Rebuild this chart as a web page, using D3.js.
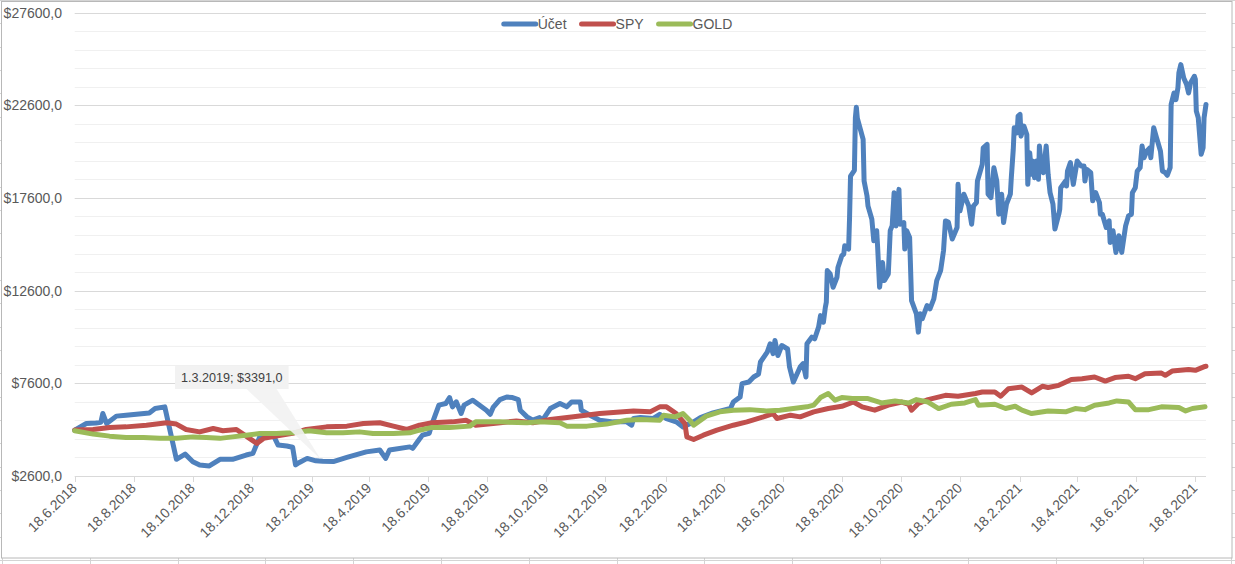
<!DOCTYPE html>
<html lang="cs">
<head>
  <meta charset="UTF-8">
  <title>Účet / SPY / GOLD</title>
  <script src="https://d3js.org/d3.v7.min.js"></script>
  <style>
    body { margin: 0; background: #fff; }
    svg { display: block; font-family: "Liberation Sans", Arial, sans-serif; }
    .lbl { font-size: 14px; fill: #595959; }
    .series { fill: none; stroke-width: 5px; stroke-linejoin: round; stroke-linecap: round; }
  </style>
</head>
<body>

<svg id="chart" width="1235" height="564"></svg>

<script>
  // account value (Účet)
  const ucet = [
    ["18.6.2018",5070],["30.6.2018",5430],["10.7.2018",5460],["15.7.2018",5500],["17.7.2018",5970],["21.7.2018",5430],
    ["31.7.2018",5830],["10.8.2018",5880],["3.9.2018",6000],["9.9.2018",6240],["19.9.2018",6330],["1.10.2018",3500],
    ["10.10.2018",3780],["18.10.2018",3370],["25.10.2018",3190],["4.11.2018",3140],["15.11.2018",3500],["28.11.2018",3500],
    ["12.12.2018",3730],["19.12.2018",3820],["26.12.2018",4700],["9.1.2019",4800],["14.1.2019",4270],["23.1.2019",4220],
    ["29.1.2019",4150],["1.2.2019",3200],["5.2.2019",3330],["13.2.2019",3550],["22.2.2019",3420],["1.3.2019",3391],
    ["12.3.2019",3380],["26.3.2019",3600],["15.4.2019",3900],["29.4.2019",4000],["5.5.2019",3550],["9.5.2019",4000],
    ["30.5.2019",4170],["2.6.2019",4090],["9.6.2019",4600],["12.6.2019",4800],["19.6.2019",4900],["22.6.2019",5430],
    ["29.6.2019",6420],["6.7.2019",6510],["10.7.2019",6830],["13.7.2019",6330],["17.7.2019",6600],["22.7.2019",5970],
    ["25.7.2019",6420],["3.8.2019",6690],["10.8.2019",6420],["17.8.2019",6150],["21.8.2019",5930],["24.8.2019",6300],
    ["31.8.2019",6720],["7.9.2019",6860],["13.9.2019",6830],["19.9.2019",6720],["21.9.2019",6150],["28.9.2019",5790],
    ["4.10.2019",5610],["11.10.2019",5750],["14.10.2019",5610],["22.10.2019",6240],["1.11.2019",6510],["8.11.2019",6330],
    ["13.11.2019",6590],["22.11.2019",6590],["23.11.2019",6150],["2.12.2019",5880],["12.12.2019",5610],["26.12.2019",5520],
    ["9.1.2020",5520],["14.1.2020",5340],["16.1.2020",5700],["23.1.2020",5750],["5.2.2020",5700],["12.2.2020",5930],
    ["19.2.2020",5700],["29.2.2020",5520],["7.3.2020",5250],["18.3.2020",5520],["25.3.2020",5750],["7.4.2020",6000],
    ["14.4.2020",6100],["25.4.2020",6240],["28.4.2020",6590],["5.5.2020",6860],["7.5.2020",7580],["14.5.2020",7670],
    ["19.5.2020",7940],["24.5.2020",8100],["26.5.2020",8750],["2.6.2020",9280],["5.6.2020",9730],["8.6.2020",9200],
    ["10.6.2020",9910],["13.6.2020",9100],["17.6.2020",9640],["23.6.2020",9450],["25.6.2020",8480],["29.6.2020",7670],
    ["6.7.2020",8480],["9.7.2020",8660],["12.7.2020",7940],["13.7.2020",9730],["18.7.2020",10090],["21.7.2020",10000],
    ["25.7.2020",10630],["27.7.2020",11250],["30.7.2020",10900],["1.8.2020",11700],["2.8.2020",11970],["3.8.2020",13680],
    ["6.8.2020",13500],["9.8.2020",12780],["13.8.2020",13320],["14.8.2020",13850],["18.8.2020",14480],["20.8.2020",14570],
    ["21.8.2020",15020],["25.8.2020",14840],["26.8.2020",16540],["27.8.2020",18780],["31.8.2020",19090],["1.9.2020",21920],
    ["2.9.2020",22490],["3.9.2020",21900],["9.9.2020",20760],["10.9.2020",18510],["13.9.2020",17710],["14.9.2020",17170],
    ["18.9.2020",16450],["20.9.2020",15290],["23.9.2020",15830],["24.9.2020",14930],["26.9.2020",12780],["29.9.2020",14120],
    ["1.10.2020",13140],["5.10.2020",13500],["7.10.2020",15830],["9.10.2020",16100],["11.10.2020",17880],["13.10.2020",16090],
    ["16.10.2020",18060],["17.10.2020",16180],["21.10.2020",16270],["22.10.2020",14840],["24.10.2020",15830],["27.10.2020",15470],
    ["29.10.2020",12060],["3.11.2020",11350],["5.11.2020",10360],["7.11.2020",11350],["9.11.2020",11080],["14.11.2020",11790],
    ["17.11.2020",11610],["21.11.2020",12150],["24.11.2020",13140],["28.11.2020",13680],["1.12.2020",14750],["3.12.2020",16360],
    ["6.12.2020",16300],["10.12.2020",15380],["15.12.2020",16000],["16.12.2020",18330],["18.12.2020",16900],["22.12.2020",17800],
    ["27.12.2020",17170],["30.12.2020",16180],["1.1.2021",17170],["4.1.2021",17350],["5.1.2021",18510],["10.1.2021",19410],
    ["11.1.2021",20300],["15.1.2021",20480],["16.1.2021",17800],["19.1.2021",17620],["22.1.2021",19230],["25.1.2021",18510],
    ["27.1.2021",16720],["30.1.2021",17800],["1.2.2021",16270],["4.2.2021",17260],["8.2.2021",17800],["9.2.2021",18690],
    ["11.2.2021",20210],["12.2.2021",21380],["15.2.2021",21110],["16.2.2021",22010],["18.2.2021",22100],["19.2.2021",20930],
    ["22.2.2021",21470],["25.2.2021",21020],["26.2.2021",18330],["28.2.2021",20030],["2.3.2021",18870],["3.3.2021",19590],
    ["5.3.2021",18690],["7.3.2021",19590],["9.3.2021",18600],["10.3.2021",20400],["12.3.2021",19230],["14.3.2021",18960],
    ["17.3.2021",20400],["19.3.2021",18870],["21.3.2021",17880],["24.3.2021",17260],["26.3.2021",15920],["30.3.2021",16720],
    ["31.3.2021",16990],["1.4.2021",18150],["6.4.2021",18510],["7.4.2021",18240],["8.4.2021",19050],["11.4.2021",19500],
    ["14.4.2021",18330],["18.4.2021",19590],["22.4.2021",19320],["25.4.2021",19320],["26.4.2021",18510],["28.4.2021",19140],
    ["2.5.2021",18960],["4.5.2021",17440],["7.5.2021",17890],["11.5.2021",17350],["12.5.2021",16720],["14.5.2021",16720],
    ["18.5.2021",16000],["21.5.2021",16360],["22.5.2021",15200],["25.5.2021",15830],["28.5.2021",14660],["31.5.2021",15560],
    ["3.6.2021",14660],["5.6.2021",15380],["7.6.2021",16090],["10.6.2021",16630],["13.6.2021",16720],["14.6.2021",17880],
    ["17.6.2021",18150],["19.6.2021",19050],["22.6.2021",19230],["24.6.2021",20400],["26.6.2021",19770],["29.6.2021",20130],
    ["2.7.2021",20300],["3.7.2021",19770],["6.7.2021",21380],["9.7.2021",20840],["13.7.2021",20120],["15.7.2021",19050],
    ["18.7.2021",18960],["20.7.2021",18820],["23.7.2021",19230],["24.7.2021",22640],["27.7.2021",23260],["29.7.2021",22900],
    ["31.7.2021",23530],["1.8.2021",24340],["3.8.2021",24790],["6.8.2021",24070],["9.8.2021",23710],["11.8.2021",23260],
    ["13.8.2021",23800],["17.8.2021",24160],["18.8.2021",24000],["19.8.2021",22280],["21.8.2021",21920],["24.8.2021",19950],
    ["26.8.2021",20300],["27.8.2021",21920],["29.8.2021",22640]
  ];

  const spy = [
    ["18.6.2018",5080],["7.7.2018",5110],["24.7.2018",5220],["10.8.2018",5250],["31.8.2018",5340],["21.9.2018",5470],
    ["1.10.2018",5400],["11.10.2018",5110],["25.10.2018",4980],["8.11.2018",5160],["18.11.2018",5040],["2.12.2018",5110],
    ["12.12.2018",4750],["23.12.2018",4360],["30.12.2018",4630],["12.1.2019",4750],["29.1.2019",4900],["12.2.2019",5110],
    ["5.3.2019",5250],["26.3.2019",5290],["12.4.2019",5430],["29.4.2019",5470],["13.5.2019",5290],["27.5.2019",5110],
    ["9.6.2019",5340],["22.6.2019",5470],["13.7.2019",5520],["27.7.2019",5610],["6.8.2019",5340],["24.8.2019",5430],
    ["17.9.2019",5570],["4.10.2019",5470],["22.10.2019",5650],["15.11.2019",5790],["12.12.2019",5970],["16.1.2020",6110],
    ["2.2.2020",6060],["12.2.2020",6330],["19.2.2020",6330],["29.2.2020",5970],["9.3.2020",5430],["11.3.2020",4710],
    ["18.3.2020",4570],["28.3.2020",4800],["11.4.2020",5070],["28.4.2020",5340],["12.5.2020",5520],["29.5.2020",5790],
    ["8.6.2020",5970],["12.6.2020",5700],["26.6.2020",5880],["6.7.2020",5790],["20.7.2020",6060],["4.8.2020",6240],
    ["18.8.2020",6360],["30.8.2020",6590],["8.9.2020",6330],["21.9.2020",6150],["5.10.2020",6420],["19.10.2020",6590],
    ["26.10.2020",6470],["29.10.2020",6150],["5.11.2020",6510],["15.11.2020",6720],["3.12.2020",6950],["16.12.2020",6900],
    ["3.1.2021",7050],["10.1.2021",7130],["23.1.2021",7130],["29.1.2021",6900],["6.2.2021",7310],["20.2.2021",7400],
    ["2.3.2021",7080],["13.3.2021",7440],["19.3.2021",7370],["30.3.2021",7490],["12.4.2021",7800],["23.4.2021",7850],
    ["6.5.2021",7940],["17.5.2021",7720],["27.5.2021",7910],["10.6.2021",7980],["17.6.2021",7850],["27.6.2021",8120],
    ["14.7.2021",8150],["18.7.2021",8030],["25.7.2021",8260],["11.8.2021",8340],["18.8.2021",8300],["28.8.2021",8510],
    ["29.8.2021",8520]
  ];

  const gold = [
    ["18.6.2018",5040],["7.7.2018",4860],["24.7.2018",4750],["10.8.2018",4680],["28.8.2018",4680],["14.9.2018",4630],
    ["1.10.2018",4630],["18.10.2018",4710],["1.11.2018",4680],["15.11.2018",4630],["28.11.2018",4710],["12.12.2018",4800],
    ["26.12.2018",4890],["12.1.2019",4890],["29.1.2019",4930],["15.2.2019",5040],["5.3.2019",4930],["22.3.2019",4930],
    ["8.4.2019",4980],["22.4.2019",4890],["13.5.2019",4890],["30.5.2019",4930],["9.6.2019",5070],["22.6.2019",5220],
    ["10.7.2019",5220],["31.7.2019",5290],["6.8.2019",5520],["31.8.2019",5520],["28.9.2019",5470],["11.10.2019",5520],
    ["1.11.2019",5470],["8.11.2019",5290],["29.11.2019",5290],["19.12.2019",5400],["9.1.2020",5610],["23.1.2020",5650],
    ["12.2.2020",5610],["16.2.2020",5880],["28.2.2020",5790],["7.3.2020",5970],["14.3.2020",5610],["18.3.2020",5340],
    ["31.3.2020",5830],["14.4.2020",6060],["28.4.2020",6150],["15.5.2020",6180],["1.6.2020",6110],["15.6.2020",6150],
    ["29.6.2020",6240],["13.7.2020",6330],["20.7.2020",6420],["27.7.2020",6830],["4.8.2020",7050],["11.8.2020",6690],
    ["18.8.2020",6830],["29.8.2020",6780],["14.9.2020",6780],["28.9.2020",6540],["12.10.2020",6650],["26.10.2020",6540],
    ["3.11.2020",6720],["15.11.2020",6590],["26.11.2020",6240],["9.12.2020",6470],["23.12.2020",6540],["3.1.2021",6720],
    ["6.1.2021",6420],["23.1.2021",6470],["3.2.2021",6240],["13.2.2021",6360],["20.2.2021",6150],["2.3.2021",5970],
    ["19.3.2021",6110],["6.4.2021",6060],["16.4.2021",6240],["26.4.2021",6180],["6.5.2021",6420],["21.5.2021",6540],
    ["29.5.2021",6650],["10.6.2021",6590],["17.6.2021",6180],["1.7.2021",6180],["14.7.2021",6330],["1.8.2021",6290],
    ["8.8.2021",6110],["15.8.2021",6240],["28.8.2021",6330]
  ];

  const seriesNames = ["Účet", "SPY", "GOLD"];
  const seriesColors = ["#4f81bd", "#c0504d", "#9bbb59"];

  const xTickLabels = [
    "18.6.2018","18.8.2018","18.10.2018","18.12.2018","18.2.2019","18.4.2019","18.6.2019",
    "18.8.2019","18.10.2019","18.12.2019","18.2.2020","18.4.2020","18.6.2020","18.8.2020",
    "18.10.2020","18.12.2020","18.2.2021","18.4.2021","18.6.2021","18.8.2021"
  ];
  const yTicks = [2600, 7600, 12600, 17600, 22600, 27600];
  const calloutDate = "1.3.2019";

  const parse = d3.timeParse("%d.%m.%Y");
  const fmtDate = d3.timeFormat("%-d.%-m.%Y");
  const fmtMoney = v => "$" + v + ",0";

  const svg = d3.select("#chart");
  const W = 1235, H = 564;

  // spreadsheet cell lines behind the chart object
  const cells = svg.append("g").attr("stroke", "#d4d4d4").attr("stroke-width", 1);
  cells.selectAll("line.v").data(d3.range(0, W, 87.8)).join("line")
    .attr("x1", d => Math.round(d + 2) + 0.5).attr("x2", d => Math.round(d + 2) + 0.5)
    .attr("y1", 0).attr("y2", H);
  cells.selectAll("line.h").data(d3.range(0, H, 23.33)).join("line")
    .attr("x1", 0).attr("x2", W)
    .attr("y1", d => Math.round(d) + 0.5).attr("y2", d => Math.round(d) + 0.5);

  // chart area
  svg.append("rect")
    .attr("x", 1.5).attr("y", 1.5).attr("width", 1230.5).attr("height", 556.5)
    .attr("fill", "#fff").attr("stroke", "#b8b8b8");

  const x = d3.scaleTime()
    .domain([parse("18.6.2018"), parse("29.8.2021")])
    .range([74.7, 1206]);
  const y = d3.scaleLinear()
    .domain([2600, 27600])
    .range([476, 12.5]);

  // gridlines
  const minor = d3.range(2600, 27601, 1000).filter(v => !yTicks.includes(v));
  svg.append("g").selectAll("line").data(minor).join("line")
    .attr("x1", x.range()[0]).attr("x2", x.range()[1])
    .attr("y1", d => Math.round(y(d)) + 0.5).attr("y2", d => Math.round(y(d)) + 0.5)
    .attr("stroke", "#f0f0f0");
  svg.append("g").selectAll("line").data(yTicks.slice(1)).join("line")
    .attr("x1", x.range()[0]).attr("x2", x.range()[1])
    .attr("y1", d => Math.round(y(d)) + 0.5).attr("y2", d => Math.round(y(d)) + 0.5)
    .attr("stroke", "#d9d9d9");

  // y labels
  svg.append("g").selectAll("text").data(yTicks).join("text")
    .attr("class", "lbl")
    .attr("x", 62).attr("y", d => y(d)).attr("dy", "0.36em")
    .attr("text-anchor", "end")
    .text(fmtMoney);

  // x axis
  const xTicks = xTickLabels.map(parse);
  const xAxis = svg.append("g");
  xAxis.append("line")
    .attr("x1", x.range()[0]).attr("x2", x.range()[1])
    .attr("y1", 476.5).attr("y2", 476.5).attr("stroke", "#d9d9d9");
  xAxis.selectAll("line.tk").data(xTicks).join("line")
    .attr("class", "tk")
    .attr("x1", d => Math.round(x(d)) + 0.5).attr("x2", d => Math.round(x(d)) + 0.5)
    .attr("y1", 476).attr("y2", 482).attr("stroke", "#d9d9d9");
  xAxis.selectAll("text").data(xTicks).join("text")
    .attr("class", "lbl")
    .attr("text-anchor", "end")
    .attr("transform", d => `translate(${x(d) + 3},${489}) rotate(-45)`)
    .text(fmtDate);

  // series lines
  const line = d3.line()
    .x(d => x(parse(d[0])))
    .y(d => y(d[1]));

  [ucet, spy, gold].forEach((data, i) => {
    svg.append("path")
      .datum(data)
      .attr("class", "series")
      .attr("stroke", seriesColors[i])
      .attr("d", line);
  });

  // legend
  const legend = svg.append("g");
  let lx = 0;
  seriesNames.forEach((name, i) => {
    const g = legend.append("g").attr("transform", `translate(${lx},0)`);
    g.append("line")
      .attr("x1", 2).attr("x2", 34).attr("y1", 0).attr("y2", 0)
      .attr("stroke", seriesColors[i]).attr("stroke-width", 5)
      .attr("stroke-linecap", "round");
    const t = g.append("text").attr("class", "lbl")
      .attr("x", 36).attr("dy", "0.36em").text(name);
    lx += 36 + t.node().getComputedTextLength() + 13;
  });
  const legendW = lx - 13;
  legend.attr("transform", `translate(${617 - legendW / 2},24)`);

  // data callout
  const pt = ucet.find(d => d[0] === calloutDate);
  const px = x(parse(pt[0])), py = y(pt[1]);
  const call = svg.append("g");
  const ct = call.append("text")
    .style("font-size", "12.6px").style("fill", "#404040")
    .attr("text-anchor", "middle")
    .text(pt[0] + "; " + fmtMoney(pt[1]));
  const tw = ct.node().getComputedTextLength();
  const bx = px - 147.6, by = py - 95.3, bw = tw + 12, bh = 23;
  call.insert("path", "text")
    .attr("d", `M${px - 76},${by + bh} L${px - 46},${by + bh} L${px - 2},${py - 2} Z`)
    .attr("fill", "#f2f2f2").attr("opacity", 0.9);
  call.insert("rect", "text")
    .attr("x", bx).attr("y", by).attr("width", bw).attr("height", bh)
    .attr("fill", "#f2f2f2");
  ct.attr("x", bx + bw / 2).attr("y", by + bh / 2).attr("dy", "0.36em");
</script>

</body>
</html>
